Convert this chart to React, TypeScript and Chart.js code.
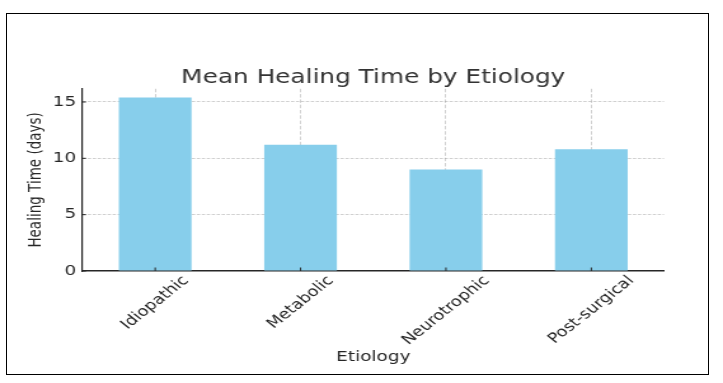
import React, { useEffect, useRef } from "react";
import { Chart, registerables } from "chart.js";

Chart.register(...registerables);

// ---- data ----
const categories = ["Idiopathic", "Metabolic", "Neurotrophic", "Post-surgical"];
const healingDays = [15.4, 11.2, 9.0, 10.8];
const yTicks = [0, 5, 10, 15];
const yMax = 16.17;
const chartTitle = "Mean Healing Time by Etiology";
const xTitle = "Etiology";
const yTitle = "Healing Time (days)";

// ---- layout / style ----
const PAGE_W = 723;
const PAGE_H = 383;
const K = 1.27; // horizontal stretch of the reference picture
const CW = Math.round(PAGE_W / K);
const KX = PAGE_W / CW;
const FONT = "'DejaVu Sans', 'Noto Sans', sans-serif";
const TEXT = "#262626";
const AXIS = "#262626";
const GRID = "rgba(150,150,150,0.45)";
const BAR = "#87CEEB";

const PLOT_L = 82.5;
const PLOT_R = 664;
const PLOT_T = 88.8;
const PLOT_B = 271;

const textPlugin = {
  id: "refText",
  afterDraw(chart: any) {
    const { ctx, chartArea } = chart;
    const xs = chart.scales.x;
    const ys = chart.scales.y;
    const cx = (chartArea.left + chartArea.right) / 2;
    ctx.save();

    // inward tick marks
    ctx.strokeStyle = AXIS;
    ctx.lineWidth = 1;
    ctx.beginPath();
    yTicks.forEach((v) => {
      const py = ys.getPixelForValue(v);
      ctx.moveTo(chartArea.left, py);
      ctx.lineTo(chartArea.left + 3.5 / KX, py);
    });
    categories.forEach((_, i) => {
      const px = xs.getPixelForTick(i);
      ctx.moveTo(px, chartArea.bottom);
      ctx.lineTo(px, chartArea.bottom - 3.5);
    });
    ctx.stroke();

    // title
    ctx.fillStyle = "#333333";
    ctx.font = `19.5px ${FONT}`;
    ctx.textAlign = "center";
    ctx.textBaseline = "alphabetic";
    ctx.fillText(chartTitle, cx, 82.5);

    // x axis title
    ctx.fillStyle = TEXT;
    ctx.font = `14.5px ${FONT}`;
    ctx.fillText(xTitle, cx, 360.5);

    // x tick labels, rotated 45deg, centred on tick
    ctx.font = `14px ${FONT}`;
    ctx.textBaseline = "middle";
    categories.forEach((lab, i) => {
      const px = xs.getPixelForTick(i);
      const w = ctx.measureText(lab).width;
      const cy = chartArea.bottom + 7.5 + w * 0.3536;
      ctx.save();
      ctx.translate(px, cy);
      ctx.rotate(-Math.PI / 4);
      ctx.fillText(lab, 0, 0);
      ctx.restore();
    });

    // y axis title
    ctx.save();
    ctx.translate(36.5 / KX, (chartArea.top + chartArea.bottom) / 2);
    ctx.rotate(-Math.PI / 2);
    ctx.font = `13.5px ${FONT}`;
    ctx.textAlign = "center";
    ctx.textBaseline = "middle";
    ctx.fillText(yTitle, 0, 0);
    ctx.restore();

    ctx.restore();
  },
};

export default function App() {
  const ref = useRef<HTMLCanvasElement | null>(null);

  useEffect(() => {
    const canvas = ref.current;
    if (!canvas) return;
    const chart = new Chart(canvas, {
      type: "bar",
      data: {
        labels: categories,
        datasets: [
          {
            data: healingDays,
            backgroundColor: BAR,
            borderWidth: 0,
            barPercentage: 0.5,
            categoryPercentage: 1,
          },
        ],
      },
      options: {
        animation: false,
        responsive: false,
        maintainAspectRatio: false,
        devicePixelRatio: 1,
        layout: {
          padding: { left: 0, top: PLOT_T, right: CW - PLOT_R / KX, bottom: 0 },
        },
        plugins: {
          legend: { display: false },
          title: { display: false },
          tooltip: { enabled: false },
        },
        scales: {
          x: {
            type: "category",
            offset: true,
            z: 1,
            grid: {
              display: true,
              offset: false,
              color: GRID,
              lineWidth: 1,
              drawTicks: false,
            },
            border: { display: true, color: AXIS, width: 1.5, dash: [3.5, 1.8] },
            ticks: { display: false },
            afterFit: (s: any) => {
              s.height = PAGE_H - PLOT_B;
            },
          },
          y: {
            type: "linear",
            min: 0,
            max: yMax,
            z: 1,
            afterBuildTicks: (s: any) => {
              s.ticks = yTicks.map((v) => ({ value: v }));
            },
            grid: {
              color: (c: any) => (c.tick && c.tick.value === 0 ? "rgba(0,0,0,0)" : GRID),
              lineWidth: 1,
              drawTicks: false,
            },
            border: { display: true, color: AXIS, width: 1.2, dash: [2.6, 1.3] },
            ticks: {
              font: { family: FONT, size: 14.5 },
              color: TEXT,
              padding: 5,
            },
            afterFit: (s: any) => {
              s.width = PLOT_L / KX;
            },
          },
        },
      },
      plugins: [textPlugin],
    });
    return () => chart.destroy();
  }, []);

  return (
    <div
      style={{
        position: "fixed",
        left: 0,
        top: 0,
        width: PAGE_W,
        height: PAGE_H,
        background: "#fff",
        overflow: "hidden",
      }}
    >
      <canvas
        ref={ref}
        width={CW}
        height={PAGE_H}
        style={{ width: PAGE_W, height: PAGE_H, display: "block" }}
      />
      <div
        style={{
          position: "absolute",
          left: 6,
          top: 13,
          width: 703,
          height: 362,
          border: "1.5px solid #000",
          boxSizing: "border-box",
          pointerEvents: "none",
        }}
      />
    </div>
  );
}
